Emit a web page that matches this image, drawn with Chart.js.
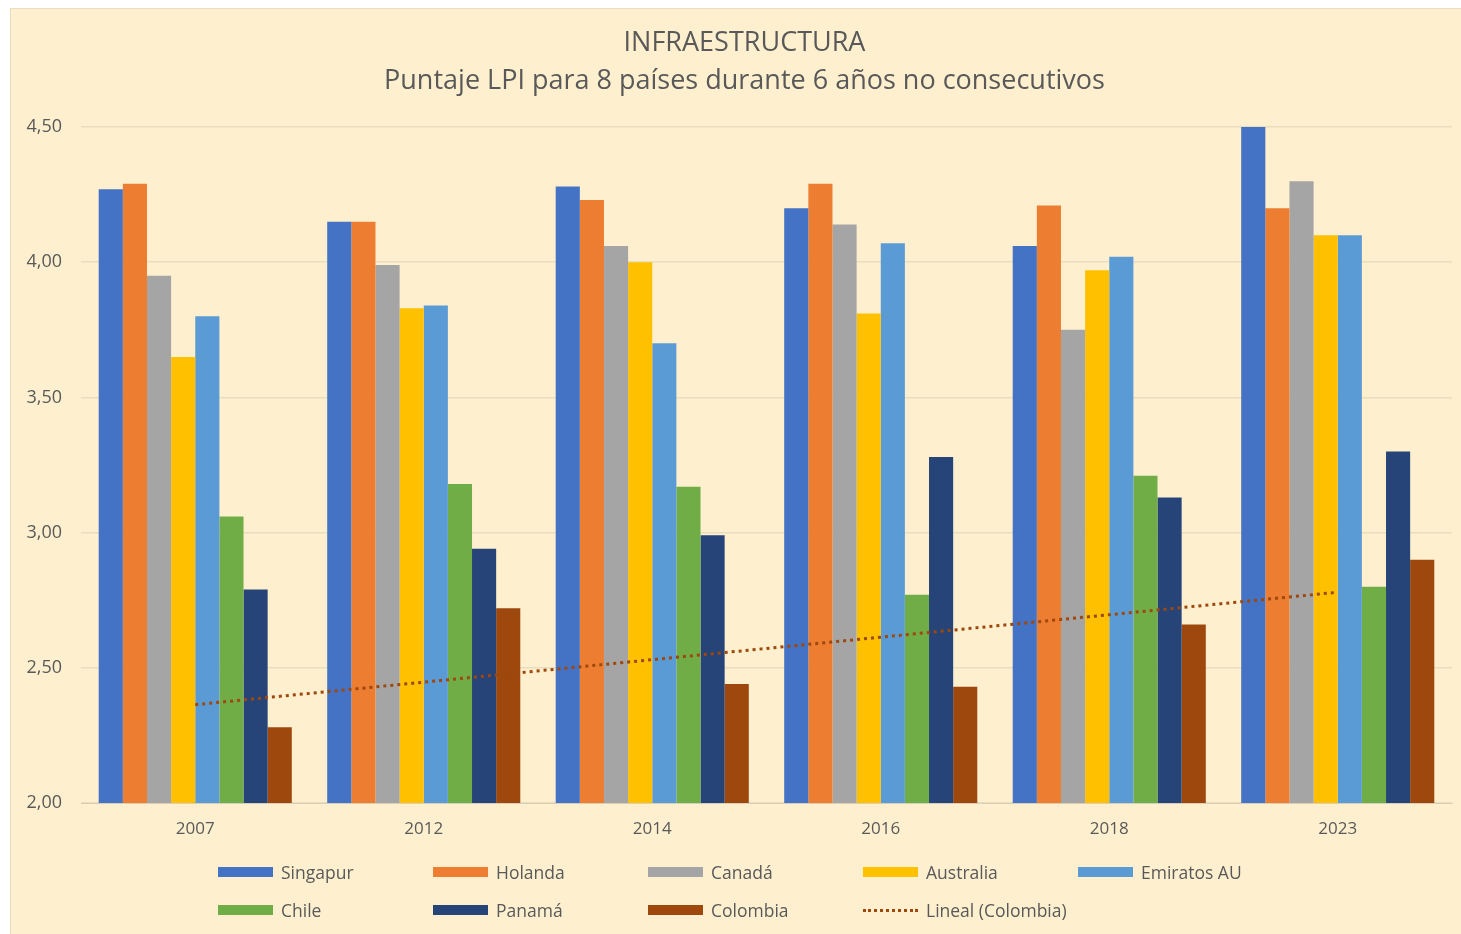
<!DOCTYPE html>
<html><head><meta charset="utf-8">
<script src="https://cdn.jsdelivr.net/npm/chart.js@4.4.1/dist/chart.umd.min.js"></script>
<style>
html,body{margin:0;padding:0;background:#fff;width:1461px;height:934px;overflow:hidden;font-family:"Open Sans",Lato,sans-serif;}
#box{position:absolute;left:10px;top:8px;width:1451px;height:926px;background:#FEF0CF;border-left:1px solid #E9DDC0;border-top:1px solid #E9DDC0;box-sizing:border-box;}
#wrap{position:absolute;left:0;top:0;width:1450px;height:842px;}
#legend{position:absolute;left:0;top:841px;width:1450px;height:80px;}
.li{position:absolute;display:flex;align-items:center;font-size:17.5px;color:#595959;white-space:nowrap;}
.sw{width:55px;height:10px;margin-right:8px;}
.dot{width:55px;height:0;border-top:3px dotted #9E480E;margin-right:8px;}
</style></head>
<body>
<div id="box"><div id="wrap"><canvas id="c"></canvas></div><div id="legend"></div></div>
<script>
const categories = ['2007','2012','2014','2016','2018','2023'];
const seriesNames = ['Singapur','Holanda','Canadá','Australia','Emiratos AU','Chile','Panamá','Colombia'];
const singapur  = [4.27, 4.15, 4.28, 4.20, 4.06, 4.50];
const holanda   = [4.29, 4.15, 4.23, 4.29, 4.21, 4.20];
const canada    = [3.95, 3.99, 4.06, 4.14, 3.75, 4.30];
const australia = [3.65, 3.83, 4.00, 3.81, 3.97, 4.10];
const emiratos  = [3.80, 3.84, 3.70, 4.07, 4.02, 4.10];
const chile     = [3.06, 3.18, 3.17, 2.77, 3.21, 2.80];
const panama    = [2.79, 2.94, 2.99, 3.28, 3.13, 3.30];
const colombia  = [2.28, 2.72, 2.44, 2.43, 2.66, 2.90];
const yTicks = [2.0, 2.5, 3.0, 3.5, 4.0, 4.5];
const trendName = 'Lineal (Colombia)';

const seriesValues = [singapur, holanda, canada, australia, emiratos, chile, panama, colombia];
const colors = ['#4472C4','#ED7D31','#A5A5A5','#FFC000','#5B9BD5','#70AD47','#264478','#9E480E'];

// linear regression trend of Colombia over category index
function trend(vals){
  const n = vals.length; const xs = vals.map((_,i)=>i+1);
  const mx = xs.reduce((a,b)=>a+b,0)/n, my = vals.reduce((a,b)=>a+b,0)/n;
  let sxy=0,sxx=0; for(let i=0;i<n;i++){sxy+=(xs[i]-mx)*(vals[i]-my);sxx+=(xs[i]-mx)**2;}
  const b=sxy/sxx, a=my-b*mx; return xs.map(x=>a+b*x);
}

const datasets = seriesNames.map((name,i)=>({
  type:'bar', label:name, data:seriesValues[i], backgroundColor:colors[i], borderWidth:0, order:1,
  categoryPercentage:0.845, barPercentage:1.0
}));
datasets.push({type:'line', label:trendName, data:trend(colombia), borderColor:'#9E480E', borderWidth:3,
  borderDash:[3,4], pointRadius:0, fill:false, order:0, tension:0});

const FONT = '"Open Sans", Lato, sans-serif';
const titleShift = {id:'titleShift', afterLayout(chart){ if(chart.titleBlock){ chart.titleBlock.left += 26; } }};
const chart = new Chart(document.getElementById('c'), {
  type:'bar',
  data:{labels:categories, datasets},
  plugins:[titleShift],
  options:{
    responsive:true, maintainAspectRatio:false, animation:false,
    layout:{padding:{left:0,right:9,top:0,bottom:0}},
    plugins:{
      legend:{display:false}, tooltip:{enabled:false},
      title:{display:true, text:['INFRAESTRUCTURA','Puntaje LPI para 8 países durante 6 años no consecutivos'],
        color:'#595959', font:{family:FONT,size:27,weight:'normal',lineHeight:1.39}, padding:{top:16,bottom:27}}
    },
    scales:{
      x:{grid:{display:false, drawTicks:false}, border:{display:true,color:'#D9CFB8',width:1},
         ticks:{color:'#595959', font:{family:FONT,size:17}, padding:16},
         afterFit:s=>{s.height=48;}},
      y:{min:2, max:4.5, afterBuildTicks:s=>{s.ticks=yTicks.map(v=>({value:v}));},
         grid:{color:'#E9DDBF', drawTicks:false, lineWidth:1.5}, border:{display:false},
         ticks:{color:'#595959', font:{family:FONT,size:18}, padding:19,
           callback:v=>Number(v).toFixed(2).replace('.',',')},
         afterFit:s=>{s.width=70;}}
    }
  }
});

// HTML legend in a fixed grid like the reference
const leg = document.getElementById('legend');
const items = chart.data.datasets.map(d=>({label:d.label, color:d.type==='line'?null:d.backgroundColor}));
items.forEach((it,i)=>{
  const col = i % 5, row = Math.floor(i/5);
  const el = document.createElement('div'); el.className='li';
  el.style.left = (207 + col*215) + 'px'; el.style.top = (row*38 + 10) + 'px';
  const sw = document.createElement('div');
  if(it.color){sw.className='sw'; sw.style.background=it.color;} else {sw.className='dot';}
  el.appendChild(sw); const t=document.createElement('span'); t.textContent=it.label; el.appendChild(t);
  leg.appendChild(el);
});
</script>
</body></html>
